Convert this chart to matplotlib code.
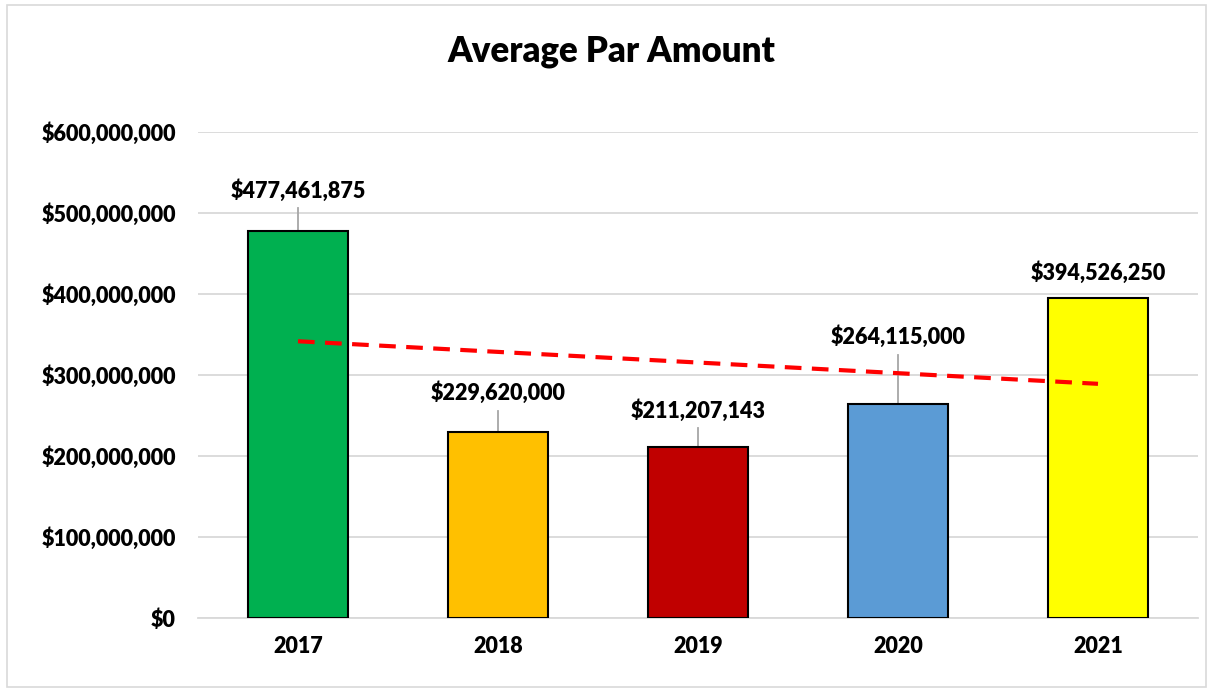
import numpy as np
import matplotlib.pyplot as plt
from matplotlib.patches import Rectangle
from matplotlib.ticker import FuncFormatter

plt.rcParams['font.family'] = ['Lato', 'DejaVu Sans']
plt.rcParams['font.weight'] = 'heavy'

# data
years = ['2017', '2018', '2019', '2020', '2021']
avg_par = [477461875, 229620000, 211207143, 264115000, 394526250]
bar_colors = ['#00B050', '#FFC000', '#C00000', '#5B9BD5', '#FFFF00']
# where each value label sits (data units)
label_y = [528e6, 278e6, 256e6, 347e6, 426e6]

fig = plt.figure(figsize=(12.13, 6.92), dpi=100)
fig.patches.append(Rectangle((7 / 1213, 5 / 692), 1 - 14 / 1213, 1 - 10 / 692,
                             transform=fig.transFigure, fill=False,
                             edgecolor='#D9D9D9', linewidth=1.2))
ax = fig.add_axes([198 / 1213, 74 / 692, 1000 / 1213, 486 / 692])

x = np.arange(len(years))
ax.bar(x, avg_par, width=0.5, color=bar_colors, edgecolor='black', linewidth=1.5, zorder=3)

# linear trendline
coef = np.polyfit(x, avg_par, 1)
ax.plot(x, np.polyval(coef, x), color='#FF0000', linestyle=(0, (4, 2.5)), linewidth=3, zorder=4)

# value labels with leader lines
for xi, v, ly in zip(x, avg_par, label_y):
    ax.text(xi, ly, '${:,}'.format(v), ha='center', va='center', fontsize=15.5,
            fontweight='heavy', zorder=5)
    gap_top = ly - 22e6
    if gap_top - v > 15e6:
        ax.plot([xi, xi], [v, gap_top], color='#A6A6A6', linewidth=1.3, zorder=2)

ax.set_xlim(-0.5, 4.5)
ax.set_ylim(0, 600e6)
ax.set_yticks(np.arange(0, 600e6 + 1, 100e6))
ax.yaxis.set_major_formatter(FuncFormatter(lambda v, p: '${:,.0f}'.format(v)))
ax.set_xticks(x)
ax.set_xticklabels(years)
ax.tick_params(axis='both', length=0, labelsize=15.5)
ax.tick_params(axis='x', pad=13)
ax.tick_params(axis='y', pad=16)
ax.grid(axis='y', color='#D9D9D9', linewidth=1.3, zorder=0)
for s in ['top', 'right', 'left']:
    ax.spines[s].set_visible(False)
ax.spines['bottom'].set_color('#D9D9D9')
ax.spines['bottom'].set_linewidth(1.3)

fig.text(611 / 1213, 1 - 52 / 692, 'Average Par Amount', ha='center', va='center',
         fontsize=25, fontweight='heavy')

fig.savefig('out.png', dpi=100)
